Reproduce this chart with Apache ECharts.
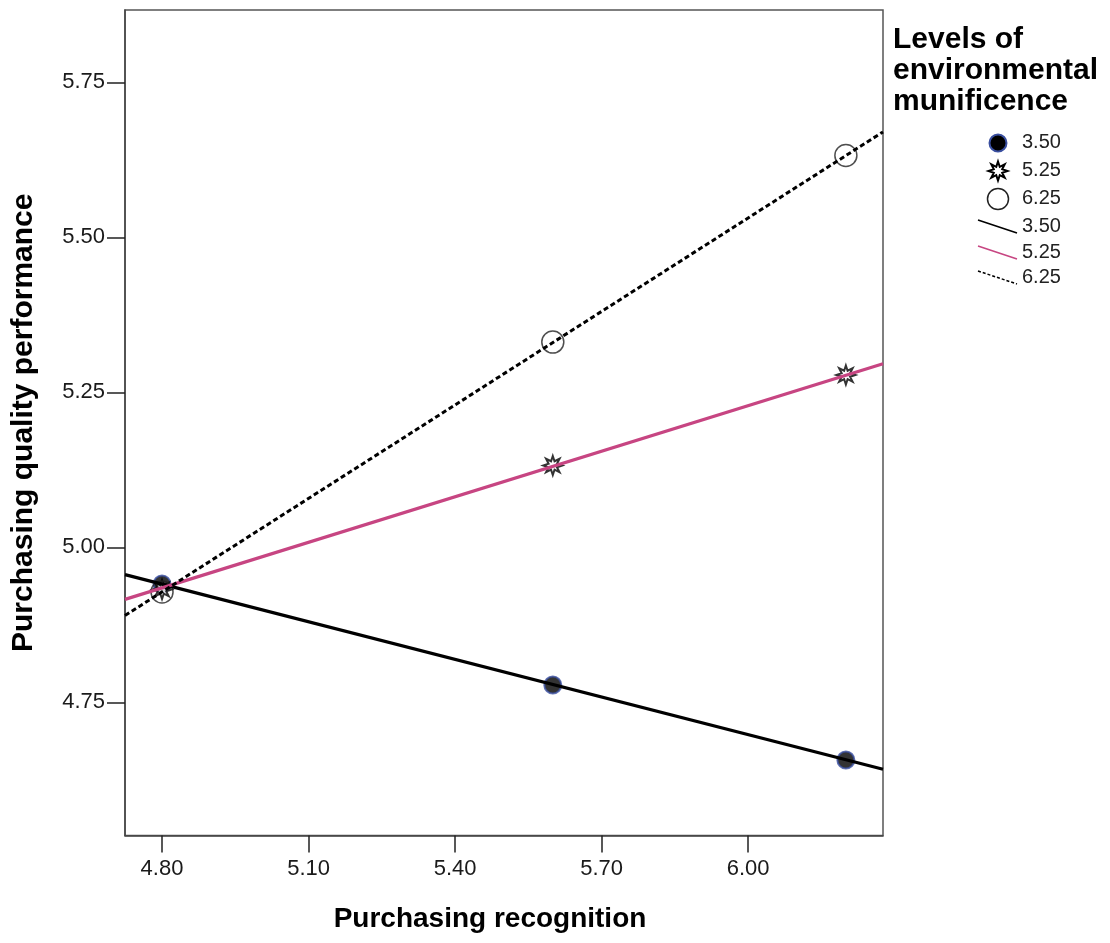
<!DOCTYPE html>
<html>
<head>
<meta charset="utf-8">
<script src="https://cdn.jsdelivr.net/npm/echarts@6/dist/echarts.min.js"></script>
<style>
html,body{margin:0;padding:0;background:#fff;}
#chart{width:1110px;height:943px;}
</style>
</head>
<body>
<div id="chart"></div>
<script>
// Data
const xPoints = [4.80, 5.60, 6.20];
const low = [4.941, 4.778, 4.657];   // munificence 3.50
const mid = [4.932, 5.132, 5.278];   // munificence 5.25
const high = [4.928, 5.331, 5.632];  // munificence 6.25

const fitX = [4.7242, 6.276];
const lowFit = [4.956, 4.642];
const midFit = [4.916, 5.296];
const highFit = [4.890, 5.670];

const xTicks = [4.80, 5.10, 5.40, 5.70, 6.00];
const yTicks = [4.75, 5.00, 5.25, 5.50, 5.75];
const levelNames = ['3.50', '5.25', '6.25'];

const FONT = 'Liberation Sans';
const PINK = '#c74582';

function starPoints(scale) {
  const pts = [];
  for (let i = 0; i < 16; i++) {
    const r = (i % 2 === 0 ? 10 : 4.8) * scale;
    const a = -Math.PI / 2 + i * Math.PI / 8;
    pts.push([r * Math.cos(a), r * Math.sin(a)]);
  }
  return pts;
}
const STAR = 'path://M' + starPoints(1).map(p => p[0].toFixed(2) + ',' + p[1].toFixed(2)).join('L') + 'Z';

const pair = (xs, ys) => xs.map((x, i) => [x, ys[i]]);

const chart = echarts.init(document.getElementById('chart'), null, {renderer: 'canvas'});

const legendX = 998, legendText = 1022;
const legendRows = [143, 171, 199, 227, 253, 278];

const graphics = [
  {type: 'text', x: 893, y: 24, style: {text: 'Levels of\nenvironmental\nmunificence', fill: '#000',
    font: 'bold 30px "Liberation Sans"', lineHeight: 31}},
  {type: 'circle', shape: {cx: legendX, cy: legendRows[0], r: 8.5}, style: {fill: '#000', stroke: '#3a4fa0', lineWidth: 2}},
  {type: 'polygon', shape: {points: starPoints(0.95).map(p => [p[0] + legendX, p[1] + legendRows[1]])},
    style: {fill: '#fff', stroke: '#000', lineWidth: 2}},
  {type: 'circle', shape: {cx: legendX, cy: legendRows[2], r: 10.5}, style: {fill: '#fff', stroke: '#222', lineWidth: 1.5}},
  {type: 'line', shape: {x1: 978, y1: legendRows[3] - 7, x2: 1017, y2: legendRows[3] + 6}, style: {stroke: '#000', lineWidth: 1.5}},
  {type: 'line', shape: {x1: 978, y1: legendRows[4] - 7, x2: 1017, y2: legendRows[4] + 6}, style: {stroke: PINK, lineWidth: 1.5}},
  {type: 'line', shape: {x1: 978, y1: legendRows[5] - 7, x2: 1017, y2: legendRows[5] + 6}, style: {stroke: '#000', lineWidth: 1.5, lineDash: [3, 2]}}
];
legendRows.forEach((y, i) => graphics.push({
  type: 'text', x: legendText, y: y - 11,
  style: {text: levelNames[i % 3], fill: '#222', font: '20px "Liberation Sans"'}
}));

const option = {
  animation: false,
  grid: {left: 125, top: 10, right: 227, bottom: 107.5, outerBoundsMode: 'none', containLabel: false,
         show: true, borderColor: '#555', borderWidth: 1.5, backgroundColor: '#fff'},
  xAxis: {
    type: 'value', min: 4.7242, max: 6.276,
    name: 'Purchasing recognition', nameLocation: 'middle', nameGap: 70,
    nameTextStyle: {fontFamily: FONT, fontWeight: 'bold', fontSize: 28, color: '#000', padding: [0, 28, 0, 0]},
    axisLine: {show: true, lineStyle: {color: '#444', width: 1.5}},
    axisTick: {show: true, length: 17, customValues: xTicks, lineStyle: {color: '#222', width: 1.5}},
    axisLabel: {customValues: xTicks, margin: 22, fontFamily: FONT, fontSize: 22, color: '#1a1a1a', formatter: v => v.toFixed(2)},
    splitLine: {show: false}
  },
  yAxis: {
    type: 'value', min: 4.5352, max: 5.8666,
    name: 'Purchasing quality performance', nameLocation: 'middle', nameGap: 86,
    nameTextStyle: {fontFamily: FONT, fontWeight: 'bold', fontSize: 30, color: '#000'},
    axisLine: {show: true, lineStyle: {color: '#444', width: 1.5}},
    axisTick: {show: true, length: 18, customValues: yTicks, lineStyle: {color: '#222', width: 1.5}},
    axisLabel: {customValues: yTicks, margin: 20, fontFamily: FONT, fontSize: 22, color: '#1a1a1a', formatter: v => v.toFixed(2)},
    splitLine: {show: false}
  },
  series: [
    {type: 'scatter', name: levelNames[0], data: pair(xPoints, low), z: 2, symbol: 'circle', symbolSize: 17,
     itemStyle: {color: '#000', borderColor: '#3a4fa0', borderWidth: 2}},
    {type: 'scatter', name: levelNames[1], data: pair(xPoints, mid), z: 2, symbol: STAR, symbolSize: 19,
     itemStyle: {color: '#fff', borderColor: '#000', borderWidth: 2}},
    {type: 'scatter', name: levelNames[2], data: pair(xPoints, high), z: 2, symbol: 'circle', symbolSize: 22,
     itemStyle: {color: 'rgba(255,255,255,0)', borderColor: '#222', borderWidth: 1.5}},
    {type: 'line', name: levelNames[0] + ' fit', data: pair(fitX, lowFit), z: 3, showSymbol: false, silent: true,
     lineStyle: {color: '#000', width: 3.2}},
    {type: 'line', name: levelNames[1] + ' fit', data: pair(fitX, midFit), z: 3, showSymbol: false, silent: true,
     lineStyle: {color: PINK, width: 3.2}},
    {type: 'line', name: levelNames[2] + ' fit', data: pair(fitX, highFit), z: 3, showSymbol: false, silent: true,
     lineStyle: {color: '#000', width: 3, type: [5, 3]}}
  ],
  graphic: graphics
};
chart.setOption(option);
</script>
</body>
</html>
